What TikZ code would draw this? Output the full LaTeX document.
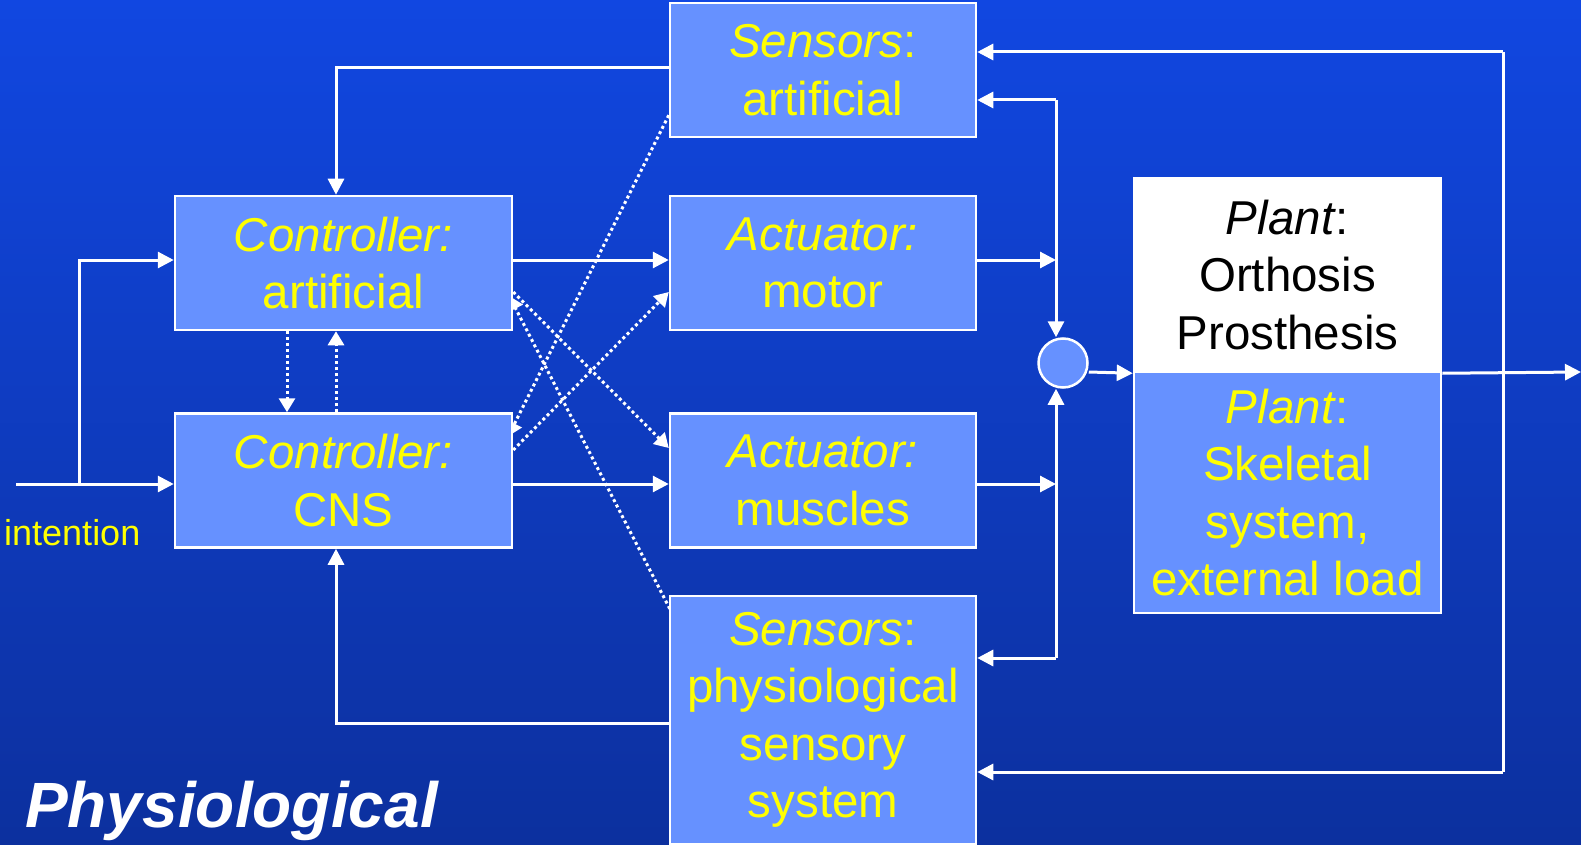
\documentclass[tikz,border=0pt]{standalone}
\usepackage{fontspec}
\setmainfont{Liberation Sans}
\usetikzlibrary{arrows.meta,calc}
\pgfdeclarelayer{bg}
\pgfdeclarelayer{lines}
\pgfsetlayers{bg,lines,main}
\definecolor{bgtop}{RGB}{17,71,225}
\definecolor{bgbot}{RGB}{12,48,158}
\definecolor{boxblue}{RGB}{102,145,255}
\definecolor{ylw}{RGB}{255,255,0}
\begin{document}
\begin{tikzpicture}[x=1pt,y=-1pt,
  box/.style={draw=white, line width=2.5pt, fill=boxblue, text=ylw, align=center,
    inner sep=0pt, font=\fontsize{47.5}{57.5}\selectfont},
  conn/.style={draw=white, line width=3pt, -{Triangle[length=16pt,width=16pt]}},
  plainline/.style={draw=white, line width=3pt},
  dots/.style={draw=white, line width=3pt, dash pattern=on 3pt off 3pt,
    -{Triangle[length=14pt,width=16pt]}}
]
\begin{pgfonlayer}{bg}
\shade[top color=bgtop, bottom color=bgbot] (0,0) rectangle (1581,845);
\end{pgfonlayer}
\useasboundingbox (0,0) rectangle (1581,845);

% boxes
\node[box, minimum width=306pt, minimum height=134pt] (sa) at (823,70) {\textit{Sensors}:\\artificial};
\node[box, minimum width=337pt, minimum height=134pt] (ca) at (343.5,263) {\textit{Controller:}\\artificial};
\node[box, minimum width=337pt, minimum height=134pt] (cn) at (343.5,480.5) {\textit{Controller:}\\CNS};
\node[box, minimum width=306pt, minimum height=134pt] (am) at (823,263) {\textit{Actuator:}\\motor};
\node[box, minimum width=306pt, minimum height=134pt] (mu) at (823,480.5) {\textit{Actuator:}\\muscles};
\node[box, minimum width=306pt, minimum height=248pt] (sp) at (823,720) {\textit{Sensors}:\\physiological\\sensory\\system};
\node[box, fill=white, text=black, minimum width=307pt, minimum height=194pt] (pw) at (1287.5,275) {\textit{Plant}:\\Orthosis\\Prosthesis};
\node[box, minimum width=307pt, minimum height=241pt] (pb) at (1287.5,492.5) {\textit{Plant}:\\Skeletal\\system,\\external load};
\node[circle, draw=white, line width=2.5pt, fill=boxblue, minimum size=49pt, inner sep=0pt] (sum) at (1063,363) {};

% texts
\node[anchor=base west, text=ylw, font=\fontsize{36}{43}\selectfont, inner sep=0pt] (int) at (4,545) {intention};
\node[anchor=base west, text=white, font=\fontsize{64}{77}\selectfont\bfseries\itshape, inner sep=0pt] (phys) at (25,827) {Physiological};

% coordinates
\coordinate (in0) at (16,484);
\coordinate (br) at (79,484);
\coordinate (lvl1) at (0,260);
\coordinate (sfb) at (0,68);
\coordinate (jm) at (1056,260);
\coordinate (jl) at (1056,484);
\coordinate (vtop) at (1056,100);
\coordinate (vbot) at (1056,658);
\coordinate (out) at (1581,372);
\coordinate (fbt) at (1503,52);
\coordinate (fbb) at (1503,772);
\coordinate (spl) at (0,723);

% solid connectors
\draw[conn] (sa.west |- sfb) -| ([xshift=-7.5pt]ca.north);
\draw[conn] (in0) -- (cn.west |- in0);
\draw[conn] (br) |- (ca.west |- lvl1);
\draw[conn] (ca.east |- lvl1) -- (am.west |- lvl1);
\draw[conn] (cn.east |- in0) -- (mu.west |- in0);
\draw[conn] (am.east |- jm) -- (jm);
\draw[conn] (mu.east |- jl) -- (jl);
\draw[conn] (vtop) -- (sa.east |- vtop);
\draw[conn] (vtop) -- ([xshift=-7pt]sum.north);
\draw[conn] (vbot) -- (sp.east |- vbot);
\draw[conn] (vbot) -- ([xshift=-7pt]sum.south);
\draw[conn] ([yshift=-9pt]sum.east) -- (pw.south west);
\draw[conn] (pw.south east) -- (out);
\draw[plainline] (fbt) -- (fbb);
\draw[conn] (fbt) -- (sa.east |- fbt);
\draw[conn] (fbb) -- (sp.east |- fbb);
\draw[conn] (sp.west |- spl) -| ([xshift=-7.5pt]cn.south);

% dotted connectors
\draw[dots] ([xshift=-56.5pt]ca.south) -- ([xshift=-56.5pt]cn.north);
\draw[dots] ([xshift=-7.5pt]cn.north) -- ([xshift=-7.5pt]ca.south);
\draw[dots] ($(ca.east)+(0,29)$) -- ($(mu.west)+(0,-32.5)$);
\draw[dots] ($(cn.east)+(0,-30.5)$) -- ($(am.west)+(0,29)$);
\begin{pgfonlayer}{lines}
\draw[dots] ($(sa.south west)+(0,-23)$) -- ($(cn.north east)+(-5,24)$);
\draw[dots] ($(sp.north west)+(1,14)$) -- ($(ca.east)+(-4,33)$);
\end{pgfonlayer}
\end{tikzpicture}
\end{document}
